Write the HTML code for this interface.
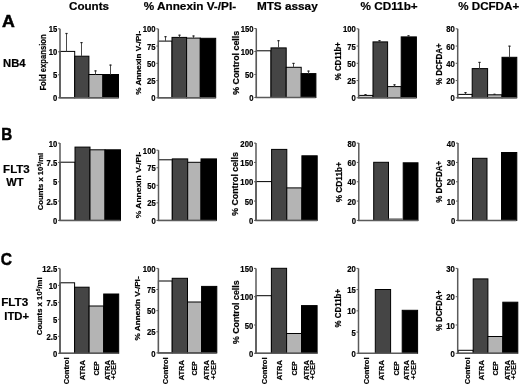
<!DOCTYPE html>
<html><head><meta charset="utf-8"><title>Figure</title>
<style>
html,body{margin:0;padding:0;background:#fff;}
body{width:520px;height:387px;overflow:hidden;}
svg{display:block;filter:grayscale(1);}
svg text{font-family:"Liberation Sans", sans-serif;font-weight:bold;fill:#000;stroke:#000;stroke-width:0.2px;}
svg text.big{stroke-width:0.5px;}
</style></head>
<body>
<svg width="520" height="387" viewBox="0 0 520 387">
<rect width="520" height="387" fill="#fff"/>
<rect x="60.00" y="51.40" width="14.70" height="46.40" fill="#ffffff" stroke="#000" stroke-width="1"/>
<rect x="74.70" y="56.20" width="14.20" height="41.60" fill="#454545" stroke="#000" stroke-width="1"/>
<rect x="88.90" y="74.50" width="14.00" height="23.30" fill="#b4b4b4" stroke="#000" stroke-width="1"/>
<rect x="102.90" y="74.50" width="15.60" height="23.30" fill="#000000" stroke="#000" stroke-width="1"/>
<line x1="66.50" y1="33.10" x2="66.50" y2="51.40" stroke="#4a4a4a" stroke-width="1"/>
<line x1="65.40" y1="33.50" x2="67.60" y2="33.50" stroke="#222" stroke-width="1.2"/>
<line x1="81.50" y1="42.20" x2="81.50" y2="56.10" stroke="#4a4a4a" stroke-width="1"/>
<line x1="80.40" y1="42.60" x2="82.60" y2="42.60" stroke="#222" stroke-width="1.2"/>
<line x1="95.50" y1="70.50" x2="95.50" y2="74.50" stroke="#4a4a4a" stroke-width="1"/>
<line x1="94.40" y1="70.90" x2="96.60" y2="70.90" stroke="#222" stroke-width="1.2"/>
<line x1="110.50" y1="64.70" x2="110.50" y2="74.50" stroke="#4a4a4a" stroke-width="1"/>
<line x1="109.40" y1="65.10" x2="111.60" y2="65.10" stroke="#222" stroke-width="1.2"/>
<line x1="60.00" y1="28.80" x2="60.00" y2="97.80" stroke="#5a5a5a" stroke-width="1.5"/>
<line x1="59.25" y1="97.80" x2="118.60" y2="97.80" stroke="#5a5a5a" stroke-width="1.5"/>
<line x1="58.00" y1="97.80" x2="60.00" y2="97.80" stroke="#5a5a5a" stroke-width="1"/>
<text x="57.20" y="101.40" font-size="8.6" text-anchor="end" textLength="4.28" lengthAdjust="spacingAndGlyphs">0</text>
<line x1="58.00" y1="74.80" x2="60.00" y2="74.80" stroke="#5a5a5a" stroke-width="1"/>
<text x="57.20" y="78.40" font-size="8.6" text-anchor="end" textLength="4.28" lengthAdjust="spacingAndGlyphs">5</text>
<line x1="58.00" y1="51.80" x2="60.00" y2="51.80" stroke="#5a5a5a" stroke-width="1"/>
<text x="57.20" y="55.40" font-size="8.6" text-anchor="end" textLength="8.56" lengthAdjust="spacingAndGlyphs">10</text>
<line x1="58.00" y1="28.80" x2="60.00" y2="28.80" stroke="#5a5a5a" stroke-width="1"/>
<text x="57.20" y="32.40" font-size="8.6" text-anchor="end" textLength="8.56" lengthAdjust="spacingAndGlyphs">15</text>
<text x="46.00" y="62.45" font-size="9" text-anchor="middle" textLength="56.30" lengthAdjust="spacingAndGlyphs" transform="rotate(-90 46.00 62.45)">Fold expansion</text>
<rect x="158.30" y="41.10" width="13.70" height="56.70" fill="#ffffff" stroke="#000" stroke-width="1"/>
<rect x="172.00" y="37.40" width="14.60" height="60.40" fill="#454545" stroke="#000" stroke-width="1"/>
<rect x="186.60" y="38.10" width="13.70" height="59.70" fill="#b4b4b4" stroke="#000" stroke-width="1"/>
<rect x="200.30" y="38.30" width="15.40" height="59.50" fill="#000000" stroke="#000" stroke-width="1"/>
<line x1="165.50" y1="36.30" x2="165.50" y2="41.10" stroke="#4a4a4a" stroke-width="1"/>
<line x1="164.40" y1="36.70" x2="166.60" y2="36.70" stroke="#222" stroke-width="1.2"/>
<line x1="179.50" y1="34.80" x2="179.50" y2="37.40" stroke="#4a4a4a" stroke-width="1"/>
<line x1="178.40" y1="35.20" x2="180.60" y2="35.20" stroke="#222" stroke-width="1.2"/>
<line x1="193.50" y1="35.60" x2="193.50" y2="38.10" stroke="#4a4a4a" stroke-width="1"/>
<line x1="192.40" y1="36.00" x2="194.60" y2="36.00" stroke="#222" stroke-width="1.2"/>
<line x1="158.30" y1="28.80" x2="158.30" y2="97.80" stroke="#5a5a5a" stroke-width="1.5"/>
<line x1="157.55" y1="97.80" x2="215.70" y2="97.80" stroke="#5a5a5a" stroke-width="1.5"/>
<line x1="156.30" y1="97.80" x2="158.30" y2="97.80" stroke="#5a5a5a" stroke-width="1"/>
<text x="155.50" y="101.40" font-size="8.6" text-anchor="end" textLength="4.28" lengthAdjust="spacingAndGlyphs">0</text>
<line x1="156.30" y1="80.55" x2="158.30" y2="80.55" stroke="#5a5a5a" stroke-width="1"/>
<text x="155.50" y="84.15" font-size="8.6" text-anchor="end" textLength="8.56" lengthAdjust="spacingAndGlyphs">25</text>
<line x1="156.30" y1="63.30" x2="158.30" y2="63.30" stroke="#5a5a5a" stroke-width="1"/>
<text x="155.50" y="66.90" font-size="8.6" text-anchor="end" textLength="8.56" lengthAdjust="spacingAndGlyphs">50</text>
<line x1="156.30" y1="46.05" x2="158.30" y2="46.05" stroke="#5a5a5a" stroke-width="1"/>
<text x="155.50" y="49.65" font-size="8.6" text-anchor="end" textLength="8.56" lengthAdjust="spacingAndGlyphs">75</text>
<line x1="156.30" y1="28.80" x2="158.30" y2="28.80" stroke="#5a5a5a" stroke-width="1"/>
<text x="155.50" y="32.40" font-size="8.6" text-anchor="end" textLength="12.85" lengthAdjust="spacingAndGlyphs">100</text>
<text x="140.70" y="62.80" font-size="8" text-anchor="middle" textLength="64.00" lengthAdjust="spacingAndGlyphs" transform="rotate(-90 140.70 62.80)">% Annexin V-/PI-</text>
<rect x="256.30" y="50.80" width="14.70" height="46.70" fill="#ffffff" stroke="#000" stroke-width="1"/>
<rect x="271.00" y="47.90" width="15.20" height="49.60" fill="#454545" stroke="#000" stroke-width="1"/>
<rect x="286.20" y="67.30" width="15.00" height="30.20" fill="#b4b4b4" stroke="#000" stroke-width="1"/>
<rect x="301.20" y="73.60" width="14.70" height="23.90" fill="#000000" stroke="#000" stroke-width="1"/>
<line x1="278.50" y1="40.30" x2="278.50" y2="47.90" stroke="#4a4a4a" stroke-width="1"/>
<line x1="277.40" y1="40.70" x2="279.60" y2="40.70" stroke="#222" stroke-width="1.2"/>
<line x1="293.50" y1="63.00" x2="293.50" y2="67.30" stroke="#4a4a4a" stroke-width="1"/>
<line x1="292.40" y1="63.40" x2="294.60" y2="63.40" stroke="#222" stroke-width="1.2"/>
<line x1="308.50" y1="70.70" x2="308.50" y2="73.60" stroke="#4a4a4a" stroke-width="1"/>
<line x1="307.40" y1="71.10" x2="309.60" y2="71.10" stroke="#222" stroke-width="1.2"/>
<line x1="256.30" y1="28.50" x2="256.30" y2="97.50" stroke="#5a5a5a" stroke-width="1.5"/>
<line x1="255.55" y1="97.50" x2="315.70" y2="97.50" stroke="#5a5a5a" stroke-width="1.5"/>
<line x1="254.30" y1="97.50" x2="256.30" y2="97.50" stroke="#5a5a5a" stroke-width="1"/>
<text x="253.50" y="101.10" font-size="8.6" text-anchor="end" textLength="4.28" lengthAdjust="spacingAndGlyphs">0</text>
<line x1="254.30" y1="74.50" x2="256.30" y2="74.50" stroke="#5a5a5a" stroke-width="1"/>
<text x="253.50" y="78.10" font-size="8.6" text-anchor="end" textLength="8.56" lengthAdjust="spacingAndGlyphs">50</text>
<line x1="254.30" y1="51.50" x2="256.30" y2="51.50" stroke="#5a5a5a" stroke-width="1"/>
<text x="253.50" y="55.10" font-size="8.6" text-anchor="end" textLength="12.85" lengthAdjust="spacingAndGlyphs">100</text>
<line x1="254.30" y1="28.50" x2="256.30" y2="28.50" stroke="#5a5a5a" stroke-width="1"/>
<text x="253.50" y="32.10" font-size="8.6" text-anchor="end" textLength="12.85" lengthAdjust="spacingAndGlyphs">150</text>
<text x="239.00" y="62.80" font-size="9" text-anchor="middle" textLength="64.00" lengthAdjust="spacingAndGlyphs" transform="rotate(-90 239.00 62.80)">% Control cells</text>
<rect x="358.60" y="95.40" width="14.40" height="2.40" fill="#c8c8c8" stroke="#000" stroke-width="1"/>
<rect x="373.00" y="41.90" width="14.60" height="55.90" fill="#454545" stroke="#000" stroke-width="1"/>
<rect x="387.60" y="86.60" width="13.60" height="11.20" fill="#b4b4b4" stroke="#000" stroke-width="1"/>
<rect x="401.20" y="36.90" width="15.20" height="60.90" fill="#000000" stroke="#000" stroke-width="1"/>
<line x1="365.50" y1="94.20" x2="365.50" y2="95.40" stroke="#4a4a4a" stroke-width="1"/>
<line x1="364.40" y1="94.60" x2="366.60" y2="94.60" stroke="#222" stroke-width="1.2"/>
<line x1="379.50" y1="40.30" x2="379.50" y2="41.90" stroke="#4a4a4a" stroke-width="1"/>
<line x1="378.40" y1="40.70" x2="380.60" y2="40.70" stroke="#222" stroke-width="1.2"/>
<line x1="394.50" y1="84.40" x2="394.50" y2="86.60" stroke="#4a4a4a" stroke-width="1"/>
<line x1="393.40" y1="84.80" x2="395.60" y2="84.80" stroke="#222" stroke-width="1.2"/>
<line x1="408.50" y1="35.40" x2="408.50" y2="36.90" stroke="#4a4a4a" stroke-width="1"/>
<line x1="407.40" y1="35.80" x2="409.60" y2="35.80" stroke="#222" stroke-width="1.2"/>
<line x1="358.60" y1="28.80" x2="358.60" y2="97.80" stroke="#5a5a5a" stroke-width="1.5"/>
<line x1="357.85" y1="97.80" x2="416.30" y2="97.80" stroke="#5a5a5a" stroke-width="1.5"/>
<line x1="356.60" y1="97.80" x2="358.60" y2="97.80" stroke="#5a5a5a" stroke-width="1"/>
<text x="355.80" y="101.40" font-size="8.6" text-anchor="end" textLength="4.28" lengthAdjust="spacingAndGlyphs">0</text>
<line x1="356.60" y1="80.55" x2="358.60" y2="80.55" stroke="#5a5a5a" stroke-width="1"/>
<text x="355.80" y="84.15" font-size="8.6" text-anchor="end" textLength="8.56" lengthAdjust="spacingAndGlyphs">25</text>
<line x1="356.60" y1="63.30" x2="358.60" y2="63.30" stroke="#5a5a5a" stroke-width="1"/>
<text x="355.80" y="66.90" font-size="8.6" text-anchor="end" textLength="8.56" lengthAdjust="spacingAndGlyphs">50</text>
<line x1="356.60" y1="46.05" x2="358.60" y2="46.05" stroke="#5a5a5a" stroke-width="1"/>
<text x="355.80" y="49.65" font-size="8.6" text-anchor="end" textLength="8.56" lengthAdjust="spacingAndGlyphs">75</text>
<line x1="356.60" y1="28.80" x2="358.60" y2="28.80" stroke="#5a5a5a" stroke-width="1"/>
<text x="355.80" y="32.40" font-size="8.6" text-anchor="end" textLength="12.85" lengthAdjust="spacingAndGlyphs">100</text>
<text x="341.50" y="61.15" font-size="9.2" text-anchor="middle" textLength="38.10" lengthAdjust="spacingAndGlyphs" transform="rotate(-90 341.50 61.15)">% CD11b+</text>
<rect x="457.70" y="94.40" width="14.50" height="3.40" fill="#ffffff" stroke="#000" stroke-width="1"/>
<rect x="472.20" y="68.60" width="15.40" height="29.20" fill="#454545" stroke="#000" stroke-width="1"/>
<rect x="487.60" y="94.80" width="14.40" height="3.00" fill="#b4b4b4" stroke="#000" stroke-width="1"/>
<rect x="502.00" y="57.30" width="14.80" height="40.50" fill="#000000" stroke="#000" stroke-width="1"/>
<line x1="465.50" y1="92.20" x2="465.50" y2="94.40" stroke="#4a4a4a" stroke-width="1"/>
<line x1="464.40" y1="92.60" x2="466.60" y2="92.60" stroke="#222" stroke-width="1.2"/>
<line x1="479.50" y1="62.00" x2="479.50" y2="68.60" stroke="#4a4a4a" stroke-width="1"/>
<line x1="478.40" y1="62.40" x2="480.60" y2="62.40" stroke="#222" stroke-width="1.2"/>
<line x1="494.50" y1="93.90" x2="494.50" y2="94.80" stroke="#4a4a4a" stroke-width="1"/>
<line x1="493.40" y1="94.30" x2="495.60" y2="94.30" stroke="#222" stroke-width="1.2"/>
<line x1="509.50" y1="45.80" x2="509.50" y2="57.30" stroke="#4a4a4a" stroke-width="1"/>
<line x1="508.40" y1="46.20" x2="510.60" y2="46.20" stroke="#222" stroke-width="1.2"/>
<line x1="457.70" y1="28.80" x2="457.70" y2="97.80" stroke="#5a5a5a" stroke-width="1.5"/>
<line x1="456.95" y1="97.80" x2="516.80" y2="97.80" stroke="#5a5a5a" stroke-width="1.5"/>
<line x1="455.70" y1="97.80" x2="457.70" y2="97.80" stroke="#5a5a5a" stroke-width="1"/>
<text x="454.90" y="101.40" font-size="8.6" text-anchor="end" textLength="4.28" lengthAdjust="spacingAndGlyphs">0</text>
<line x1="455.70" y1="80.55" x2="457.70" y2="80.55" stroke="#5a5a5a" stroke-width="1"/>
<text x="454.90" y="84.15" font-size="8.6" text-anchor="end" textLength="8.56" lengthAdjust="spacingAndGlyphs">20</text>
<line x1="455.70" y1="63.30" x2="457.70" y2="63.30" stroke="#5a5a5a" stroke-width="1"/>
<text x="454.90" y="66.90" font-size="8.6" text-anchor="end" textLength="8.56" lengthAdjust="spacingAndGlyphs">40</text>
<line x1="455.70" y1="46.05" x2="457.70" y2="46.05" stroke="#5a5a5a" stroke-width="1"/>
<text x="454.90" y="49.65" font-size="8.6" text-anchor="end" textLength="8.56" lengthAdjust="spacingAndGlyphs">60</text>
<line x1="455.70" y1="28.80" x2="457.70" y2="28.80" stroke="#5a5a5a" stroke-width="1"/>
<text x="454.90" y="32.40" font-size="8.6" text-anchor="end" textLength="8.56" lengthAdjust="spacingAndGlyphs">80</text>
<text x="442.00" y="64.25" font-size="9.2" text-anchor="middle" textLength="41.70" lengthAdjust="spacingAndGlyphs" transform="rotate(-90 442.00 64.25)">% DCFDA+</text>
<rect x="60.00" y="162.20" width="15.00" height="58.20" fill="#ffffff" stroke="#000" stroke-width="1"/>
<rect x="75.00" y="147.10" width="15.00" height="73.30" fill="#454545" stroke="#000" stroke-width="1"/>
<rect x="90.00" y="149.80" width="15.00" height="70.60" fill="#b4b4b4" stroke="#000" stroke-width="1"/>
<rect x="105.00" y="149.80" width="15.50" height="70.60" fill="#000000" stroke="#000" stroke-width="1"/>
<line x1="60.00" y1="143.10" x2="60.00" y2="220.40" stroke="#5a5a5a" stroke-width="1.5"/>
<line x1="59.25" y1="220.40" x2="120.50" y2="220.40" stroke="#5a5a5a" stroke-width="1.5"/>
<line x1="58.00" y1="220.40" x2="60.00" y2="220.40" stroke="#5a5a5a" stroke-width="1"/>
<text x="57.20" y="224.00" font-size="8.6" text-anchor="end" textLength="4.28" lengthAdjust="spacingAndGlyphs">0</text>
<line x1="58.00" y1="201.07" x2="60.00" y2="201.07" stroke="#5a5a5a" stroke-width="1"/>
<text x="57.20" y="204.67" font-size="8.6" text-anchor="end" textLength="10.70" lengthAdjust="spacingAndGlyphs">2.5</text>
<line x1="58.00" y1="181.75" x2="60.00" y2="181.75" stroke="#5a5a5a" stroke-width="1"/>
<text x="57.20" y="185.35" font-size="8.6" text-anchor="end" textLength="4.28" lengthAdjust="spacingAndGlyphs">5</text>
<line x1="58.00" y1="162.43" x2="60.00" y2="162.43" stroke="#5a5a5a" stroke-width="1"/>
<text x="57.20" y="166.03" font-size="8.6" text-anchor="end" textLength="10.70" lengthAdjust="spacingAndGlyphs">7.5</text>
<line x1="58.00" y1="143.10" x2="60.00" y2="143.10" stroke="#5a5a5a" stroke-width="1"/>
<text x="57.20" y="146.70" font-size="8.6" text-anchor="end" textLength="8.56" lengthAdjust="spacingAndGlyphs">10</text>
<text x="42.80" y="181.50" font-size="7.5" text-anchor="middle" textLength="57.40" lengthAdjust="spacingAndGlyphs" transform="rotate(-90 42.80 181.50)">Counts x 10<tspan font-size="4.65" dy="-2.25">5</tspan><tspan dy="2.25">/ml</tspan></text>
<rect x="158.50" y="159.80" width="13.80" height="60.60" fill="#ffffff" stroke="#000" stroke-width="1"/>
<rect x="172.30" y="158.90" width="15.40" height="61.50" fill="#454545" stroke="#000" stroke-width="1"/>
<rect x="187.70" y="162.30" width="13.30" height="58.10" fill="#b4b4b4" stroke="#000" stroke-width="1"/>
<rect x="201.00" y="158.90" width="15.50" height="61.50" fill="#000000" stroke="#000" stroke-width="1"/>
<line x1="158.50" y1="150.20" x2="158.50" y2="220.40" stroke="#5a5a5a" stroke-width="1.5"/>
<line x1="157.75" y1="220.40" x2="216.50" y2="220.40" stroke="#5a5a5a" stroke-width="1.5"/>
<line x1="156.50" y1="220.40" x2="158.50" y2="220.40" stroke="#5a5a5a" stroke-width="1"/>
<text x="155.70" y="224.00" font-size="8.6" text-anchor="end" textLength="4.28" lengthAdjust="spacingAndGlyphs">0</text>
<line x1="156.50" y1="202.85" x2="158.50" y2="202.85" stroke="#5a5a5a" stroke-width="1"/>
<text x="155.70" y="206.45" font-size="8.6" text-anchor="end" textLength="8.56" lengthAdjust="spacingAndGlyphs">25</text>
<line x1="156.50" y1="185.30" x2="158.50" y2="185.30" stroke="#5a5a5a" stroke-width="1"/>
<text x="155.70" y="188.90" font-size="8.6" text-anchor="end" textLength="8.56" lengthAdjust="spacingAndGlyphs">50</text>
<line x1="156.50" y1="167.75" x2="158.50" y2="167.75" stroke="#5a5a5a" stroke-width="1"/>
<text x="155.70" y="171.35" font-size="8.6" text-anchor="end" textLength="8.56" lengthAdjust="spacingAndGlyphs">75</text>
<line x1="156.50" y1="150.20" x2="158.50" y2="150.20" stroke="#5a5a5a" stroke-width="1"/>
<text x="155.70" y="153.80" font-size="8.6" text-anchor="end" textLength="12.85" lengthAdjust="spacingAndGlyphs">100</text>
<text x="141.40" y="184.95" font-size="8" text-anchor="middle" textLength="66.70" lengthAdjust="spacingAndGlyphs" transform="rotate(-90 141.40 184.95)">% Annexin V-/PI-</text>
<rect x="256.00" y="181.60" width="15.60" height="38.80" fill="#ffffff" stroke="#000" stroke-width="1"/>
<rect x="271.60" y="149.40" width="15.20" height="71.00" fill="#454545" stroke="#000" stroke-width="1"/>
<rect x="286.80" y="187.90" width="15.10" height="32.50" fill="#b4b4b4" stroke="#000" stroke-width="1"/>
<rect x="301.90" y="155.80" width="15.30" height="64.60" fill="#000000" stroke="#000" stroke-width="1"/>
<line x1="256.00" y1="143.10" x2="256.00" y2="220.40" stroke="#5a5a5a" stroke-width="1.5"/>
<line x1="255.25" y1="220.40" x2="317.20" y2="220.40" stroke="#5a5a5a" stroke-width="1.5"/>
<line x1="254.00" y1="220.40" x2="256.00" y2="220.40" stroke="#5a5a5a" stroke-width="1"/>
<text x="253.20" y="224.00" font-size="8.6" text-anchor="end" textLength="4.28" lengthAdjust="spacingAndGlyphs">0</text>
<line x1="254.00" y1="201.07" x2="256.00" y2="201.07" stroke="#5a5a5a" stroke-width="1"/>
<text x="253.20" y="204.67" font-size="8.6" text-anchor="end" textLength="8.56" lengthAdjust="spacingAndGlyphs">50</text>
<line x1="254.00" y1="181.75" x2="256.00" y2="181.75" stroke="#5a5a5a" stroke-width="1"/>
<text x="253.20" y="185.35" font-size="8.6" text-anchor="end" textLength="12.85" lengthAdjust="spacingAndGlyphs">100</text>
<line x1="254.00" y1="162.43" x2="256.00" y2="162.43" stroke="#5a5a5a" stroke-width="1"/>
<text x="253.20" y="166.03" font-size="8.6" text-anchor="end" textLength="12.85" lengthAdjust="spacingAndGlyphs">150</text>
<line x1="254.00" y1="143.10" x2="256.00" y2="143.10" stroke="#5a5a5a" stroke-width="1"/>
<text x="253.20" y="146.70" font-size="8.6" text-anchor="end" textLength="12.85" lengthAdjust="spacingAndGlyphs">200</text>
<text x="238.20" y="183.95" font-size="9" text-anchor="middle" textLength="63.70" lengthAdjust="spacingAndGlyphs" transform="rotate(-90 238.20 183.95)">% Control cells</text>
<rect x="373.70" y="162.30" width="14.80" height="58.10" fill="#454545" stroke="#000" stroke-width="1"/>
<rect x="403.20" y="162.80" width="14.80" height="57.60" fill="#000000" stroke="#000" stroke-width="1"/>
<rect x="388.60" y="218.30" width="14.40" height="2.10" fill="#7a7a7a"/>
<line x1="358.80" y1="143.10" x2="358.80" y2="220.40" stroke="#5a5a5a" stroke-width="1.5"/>
<line x1="358.05" y1="220.40" x2="418.20" y2="220.40" stroke="#5a5a5a" stroke-width="1.5"/>
<line x1="356.80" y1="220.40" x2="358.80" y2="220.40" stroke="#5a5a5a" stroke-width="1"/>
<text x="356.00" y="224.00" font-size="8.6" text-anchor="end" textLength="4.28" lengthAdjust="spacingAndGlyphs">0</text>
<line x1="356.80" y1="201.07" x2="358.80" y2="201.07" stroke="#5a5a5a" stroke-width="1"/>
<text x="356.00" y="204.67" font-size="8.6" text-anchor="end" textLength="8.56" lengthAdjust="spacingAndGlyphs">20</text>
<line x1="356.80" y1="181.75" x2="358.80" y2="181.75" stroke="#5a5a5a" stroke-width="1"/>
<text x="356.00" y="185.35" font-size="8.6" text-anchor="end" textLength="8.56" lengthAdjust="spacingAndGlyphs">40</text>
<line x1="356.80" y1="162.43" x2="358.80" y2="162.43" stroke="#5a5a5a" stroke-width="1"/>
<text x="356.00" y="166.03" font-size="8.6" text-anchor="end" textLength="8.56" lengthAdjust="spacingAndGlyphs">60</text>
<line x1="356.80" y1="143.10" x2="358.80" y2="143.10" stroke="#5a5a5a" stroke-width="1"/>
<text x="356.00" y="146.70" font-size="8.6" text-anchor="end" textLength="8.56" lengthAdjust="spacingAndGlyphs">80</text>
<text x="342.40" y="182.15" font-size="9.2" text-anchor="middle" textLength="40.30" lengthAdjust="spacingAndGlyphs" transform="rotate(-90 342.40 182.15)">% CD11b+</text>
<rect x="472.50" y="158.30" width="14.50" height="62.10" fill="#454545" stroke="#000" stroke-width="1"/>
<rect x="501.50" y="152.50" width="15.30" height="67.90" fill="#000000" stroke="#000" stroke-width="1"/>
<line x1="458.00" y1="143.10" x2="458.00" y2="220.40" stroke="#5a5a5a" stroke-width="1.5"/>
<line x1="457.25" y1="220.40" x2="516.40" y2="220.40" stroke="#5a5a5a" stroke-width="1.5"/>
<line x1="456.00" y1="220.40" x2="458.00" y2="220.40" stroke="#5a5a5a" stroke-width="1"/>
<text x="455.20" y="224.00" font-size="8.6" text-anchor="end" textLength="4.28" lengthAdjust="spacingAndGlyphs">0</text>
<line x1="456.00" y1="201.07" x2="458.00" y2="201.07" stroke="#5a5a5a" stroke-width="1"/>
<text x="455.20" y="204.67" font-size="8.6" text-anchor="end" textLength="8.56" lengthAdjust="spacingAndGlyphs">10</text>
<line x1="456.00" y1="181.75" x2="458.00" y2="181.75" stroke="#5a5a5a" stroke-width="1"/>
<text x="455.20" y="185.35" font-size="8.6" text-anchor="end" textLength="8.56" lengthAdjust="spacingAndGlyphs">20</text>
<line x1="456.00" y1="162.43" x2="458.00" y2="162.43" stroke="#5a5a5a" stroke-width="1"/>
<text x="455.20" y="166.03" font-size="8.6" text-anchor="end" textLength="8.56" lengthAdjust="spacingAndGlyphs">30</text>
<line x1="456.00" y1="143.10" x2="458.00" y2="143.10" stroke="#5a5a5a" stroke-width="1"/>
<text x="455.20" y="146.70" font-size="8.6" text-anchor="end" textLength="8.56" lengthAdjust="spacingAndGlyphs">40</text>
<text x="442.40" y="181.80" font-size="9.2" text-anchor="middle" textLength="41.80" lengthAdjust="spacingAndGlyphs" transform="rotate(-90 442.40 181.80)">% DCFDA+</text>
<rect x="60.00" y="282.80" width="14.60" height="70.50" fill="#ffffff" stroke="#000" stroke-width="1"/>
<rect x="74.60" y="287.20" width="14.50" height="66.10" fill="#454545" stroke="#000" stroke-width="1"/>
<rect x="89.10" y="306.00" width="14.60" height="47.30" fill="#b4b4b4" stroke="#000" stroke-width="1"/>
<rect x="103.70" y="294.00" width="15.00" height="59.30" fill="#000000" stroke="#000" stroke-width="1"/>
<line x1="60.00" y1="268.40" x2="60.00" y2="353.30" stroke="#5a5a5a" stroke-width="1.5"/>
<line x1="59.25" y1="353.30" x2="118.80" y2="353.30" stroke="#5a5a5a" stroke-width="1.5"/>
<line x1="58.00" y1="353.30" x2="60.00" y2="353.30" stroke="#5a5a5a" stroke-width="1"/>
<text x="57.20" y="356.90" font-size="8.6" text-anchor="end" textLength="4.28" lengthAdjust="spacingAndGlyphs">0</text>
<line x1="58.00" y1="336.32" x2="60.00" y2="336.32" stroke="#5a5a5a" stroke-width="1"/>
<text x="57.20" y="339.92" font-size="8.6" text-anchor="end" textLength="10.70" lengthAdjust="spacingAndGlyphs">2.5</text>
<line x1="58.00" y1="319.34" x2="60.00" y2="319.34" stroke="#5a5a5a" stroke-width="1"/>
<text x="57.20" y="322.94" font-size="8.6" text-anchor="end" textLength="4.28" lengthAdjust="spacingAndGlyphs">5</text>
<line x1="58.00" y1="302.36" x2="60.00" y2="302.36" stroke="#5a5a5a" stroke-width="1"/>
<text x="57.20" y="305.96" font-size="8.6" text-anchor="end" textLength="10.70" lengthAdjust="spacingAndGlyphs">7.5</text>
<line x1="58.00" y1="285.38" x2="60.00" y2="285.38" stroke="#5a5a5a" stroke-width="1"/>
<text x="57.20" y="288.98" font-size="8.6" text-anchor="end" textLength="8.56" lengthAdjust="spacingAndGlyphs">10</text>
<line x1="58.00" y1="268.40" x2="60.00" y2="268.40" stroke="#5a5a5a" stroke-width="1"/>
<text x="57.20" y="272.00" font-size="8.6" text-anchor="end" textLength="14.99" lengthAdjust="spacingAndGlyphs">12.5</text>
<text x="41.80" y="306.30" font-size="7.5" text-anchor="middle" textLength="57.80" lengthAdjust="spacingAndGlyphs" transform="rotate(-90 41.80 306.30)">Counts x 10<tspan font-size="4.65" dy="-2.25">5</tspan><tspan dy="2.25">/ml</tspan></text>
<rect x="158.40" y="281.00" width="13.80" height="71.90" fill="#ffffff" stroke="#000" stroke-width="1"/>
<rect x="172.20" y="278.30" width="15.30" height="74.60" fill="#454545" stroke="#000" stroke-width="1"/>
<rect x="187.50" y="302.00" width="14.10" height="50.90" fill="#b4b4b4" stroke="#000" stroke-width="1"/>
<rect x="201.60" y="286.40" width="15.20" height="66.50" fill="#000000" stroke="#000" stroke-width="1"/>
<line x1="158.40" y1="268.40" x2="158.40" y2="352.90" stroke="#5a5a5a" stroke-width="1.5"/>
<line x1="157.65" y1="352.90" x2="216.60" y2="352.90" stroke="#5a5a5a" stroke-width="1.5"/>
<line x1="156.40" y1="352.90" x2="158.40" y2="352.90" stroke="#5a5a5a" stroke-width="1"/>
<text x="155.60" y="356.50" font-size="8.6" text-anchor="end" textLength="4.28" lengthAdjust="spacingAndGlyphs">0</text>
<line x1="156.40" y1="331.77" x2="158.40" y2="331.77" stroke="#5a5a5a" stroke-width="1"/>
<text x="155.60" y="335.38" font-size="8.6" text-anchor="end" textLength="8.56" lengthAdjust="spacingAndGlyphs">25</text>
<line x1="156.40" y1="310.65" x2="158.40" y2="310.65" stroke="#5a5a5a" stroke-width="1"/>
<text x="155.60" y="314.25" font-size="8.6" text-anchor="end" textLength="8.56" lengthAdjust="spacingAndGlyphs">50</text>
<line x1="156.40" y1="289.52" x2="158.40" y2="289.52" stroke="#5a5a5a" stroke-width="1"/>
<text x="155.60" y="293.12" font-size="8.6" text-anchor="end" textLength="8.56" lengthAdjust="spacingAndGlyphs">75</text>
<line x1="156.40" y1="268.40" x2="158.40" y2="268.40" stroke="#5a5a5a" stroke-width="1"/>
<text x="155.60" y="272.00" font-size="8.6" text-anchor="end" textLength="12.85" lengthAdjust="spacingAndGlyphs">100</text>
<text x="140.30" y="308.40" font-size="8" text-anchor="middle" textLength="64.00" lengthAdjust="spacingAndGlyphs" transform="rotate(-90 140.30 308.40)">% Annexin V-/PI-</text>
<rect x="256.00" y="295.70" width="15.40" height="57.60" fill="#ffffff" stroke="#000" stroke-width="1"/>
<rect x="271.40" y="268.30" width="15.20" height="85.00" fill="#454545" stroke="#000" stroke-width="1"/>
<rect x="286.60" y="333.50" width="14.90" height="19.80" fill="#b4b4b4" stroke="#000" stroke-width="1"/>
<rect x="301.50" y="305.60" width="15.60" height="47.70" fill="#000000" stroke="#000" stroke-width="1"/>
<line x1="256.00" y1="268.40" x2="256.00" y2="353.30" stroke="#5a5a5a" stroke-width="1.5"/>
<line x1="255.25" y1="353.30" x2="317.10" y2="353.30" stroke="#5a5a5a" stroke-width="1.5"/>
<line x1="254.00" y1="353.30" x2="256.00" y2="353.30" stroke="#5a5a5a" stroke-width="1"/>
<text x="253.20" y="356.90" font-size="8.6" text-anchor="end" textLength="4.28" lengthAdjust="spacingAndGlyphs">0</text>
<line x1="254.00" y1="325.00" x2="256.00" y2="325.00" stroke="#5a5a5a" stroke-width="1"/>
<text x="253.20" y="328.60" font-size="8.6" text-anchor="end" textLength="8.56" lengthAdjust="spacingAndGlyphs">50</text>
<line x1="254.00" y1="296.70" x2="256.00" y2="296.70" stroke="#5a5a5a" stroke-width="1"/>
<text x="253.20" y="300.30" font-size="8.6" text-anchor="end" textLength="12.85" lengthAdjust="spacingAndGlyphs">100</text>
<line x1="254.00" y1="268.40" x2="256.00" y2="268.40" stroke="#5a5a5a" stroke-width="1"/>
<text x="253.20" y="272.00" font-size="8.6" text-anchor="end" textLength="12.85" lengthAdjust="spacingAndGlyphs">150</text>
<text x="238.60" y="312.25" font-size="9" text-anchor="middle" textLength="63.70" lengthAdjust="spacingAndGlyphs" transform="rotate(-90 238.60 312.25)">% Control cells</text>
<rect x="375.30" y="289.50" width="15.30" height="63.80" fill="#454545" stroke="#000" stroke-width="1"/>
<rect x="402.20" y="310.30" width="15.40" height="43.00" fill="#000000" stroke="#000" stroke-width="1"/>
<line x1="358.50" y1="268.40" x2="358.50" y2="353.30" stroke="#5a5a5a" stroke-width="1.5"/>
<line x1="357.75" y1="353.30" x2="417.40" y2="353.30" stroke="#5a5a5a" stroke-width="1.5"/>
<line x1="356.50" y1="353.30" x2="358.50" y2="353.30" stroke="#5a5a5a" stroke-width="1"/>
<text x="355.70" y="356.90" font-size="8.6" text-anchor="end" textLength="4.28" lengthAdjust="spacingAndGlyphs">0</text>
<line x1="356.50" y1="332.07" x2="358.50" y2="332.07" stroke="#5a5a5a" stroke-width="1"/>
<text x="355.70" y="335.68" font-size="8.6" text-anchor="end" textLength="4.28" lengthAdjust="spacingAndGlyphs">5</text>
<line x1="356.50" y1="310.85" x2="358.50" y2="310.85" stroke="#5a5a5a" stroke-width="1"/>
<text x="355.70" y="314.45" font-size="8.6" text-anchor="end" textLength="8.56" lengthAdjust="spacingAndGlyphs">10</text>
<line x1="356.50" y1="289.62" x2="358.50" y2="289.62" stroke="#5a5a5a" stroke-width="1"/>
<text x="355.70" y="293.23" font-size="8.6" text-anchor="end" textLength="8.56" lengthAdjust="spacingAndGlyphs">15</text>
<line x1="356.50" y1="268.40" x2="358.50" y2="268.40" stroke="#5a5a5a" stroke-width="1"/>
<text x="355.70" y="272.00" font-size="8.6" text-anchor="end" textLength="8.56" lengthAdjust="spacingAndGlyphs">20</text>
<text x="341.20" y="308.20" font-size="9.2" text-anchor="middle" textLength="38.40" lengthAdjust="spacingAndGlyphs" transform="rotate(-90 341.20 308.20)">% CD11b+</text>
<rect x="458.20" y="350.30" width="15.00" height="3.00" fill="#ffffff" stroke="#000" stroke-width="1"/>
<rect x="473.20" y="278.90" width="14.70" height="74.40" fill="#454545" stroke="#000" stroke-width="1"/>
<rect x="487.90" y="336.50" width="14.90" height="16.80" fill="#b4b4b4" stroke="#000" stroke-width="1"/>
<rect x="502.80" y="302.20" width="15.00" height="51.10" fill="#000000" stroke="#000" stroke-width="1"/>
<line x1="457.70" y1="268.40" x2="457.70" y2="353.30" stroke="#5a5a5a" stroke-width="1.5"/>
<line x1="456.95" y1="353.30" x2="517.80" y2="353.30" stroke="#5a5a5a" stroke-width="1.5"/>
<line x1="455.70" y1="353.30" x2="457.70" y2="353.30" stroke="#5a5a5a" stroke-width="1"/>
<text x="454.90" y="356.90" font-size="8.6" text-anchor="end" textLength="4.28" lengthAdjust="spacingAndGlyphs">0</text>
<line x1="455.70" y1="325.00" x2="457.70" y2="325.00" stroke="#5a5a5a" stroke-width="1"/>
<text x="454.90" y="328.60" font-size="8.6" text-anchor="end" textLength="8.56" lengthAdjust="spacingAndGlyphs">10</text>
<line x1="455.70" y1="296.70" x2="457.70" y2="296.70" stroke="#5a5a5a" stroke-width="1"/>
<text x="454.90" y="300.30" font-size="8.6" text-anchor="end" textLength="8.56" lengthAdjust="spacingAndGlyphs">20</text>
<line x1="455.70" y1="268.40" x2="457.70" y2="268.40" stroke="#5a5a5a" stroke-width="1"/>
<text x="454.90" y="272.00" font-size="8.6" text-anchor="end" textLength="8.56" lengthAdjust="spacingAndGlyphs">30</text>
<text x="442.10" y="310.55" font-size="9.2" text-anchor="middle" textLength="40.90" lengthAdjust="spacingAndGlyphs" transform="rotate(-90 442.10 310.55)">% DCFDA+</text>
<text x="69.35" y="370.85" font-size="8.0" text-anchor="middle" textLength="26.90" lengthAdjust="spacingAndGlyphs" transform="rotate(-90 69.35 370.85)">Control</text>
<text x="85.05" y="370.20" font-size="8.0" text-anchor="middle" textLength="20.20" lengthAdjust="spacingAndGlyphs" transform="rotate(-90 85.05 370.20)">ATRA</text>
<text x="99.30" y="368.50" font-size="8.0" text-anchor="middle" textLength="14.20" lengthAdjust="spacingAndGlyphs" transform="rotate(-90 99.30 368.50)">CEP</text>
<text x="109.55" y="370.20" font-size="8.0" text-anchor="middle" textLength="20.20" lengthAdjust="spacingAndGlyphs" transform="rotate(-90 109.55 370.20)">ATRA</text>
<text x="116.50" y="369.85" font-size="8.0" text-anchor="middle" textLength="19.50" lengthAdjust="spacingAndGlyphs" transform="rotate(-90 116.50 369.85)">+CEP</text>
<text x="167.95" y="370.85" font-size="8.0" text-anchor="middle" textLength="26.90" lengthAdjust="spacingAndGlyphs" transform="rotate(-90 167.95 370.85)">Control</text>
<text x="183.65" y="370.20" font-size="8.0" text-anchor="middle" textLength="20.20" lengthAdjust="spacingAndGlyphs" transform="rotate(-90 183.65 370.20)">ATRA</text>
<text x="197.35" y="368.50" font-size="8.0" text-anchor="middle" textLength="14.20" lengthAdjust="spacingAndGlyphs" transform="rotate(-90 197.35 368.50)">CEP</text>
<text x="208.85" y="370.20" font-size="8.0" text-anchor="middle" textLength="20.20" lengthAdjust="spacingAndGlyphs" transform="rotate(-90 208.85 370.20)">ATRA</text>
<text x="215.55" y="369.85" font-size="8.0" text-anchor="middle" textLength="19.50" lengthAdjust="spacingAndGlyphs" transform="rotate(-90 215.55 369.85)">+CEP</text>
<text x="267.35" y="370.85" font-size="8.0" text-anchor="middle" textLength="26.90" lengthAdjust="spacingAndGlyphs" transform="rotate(-90 267.35 370.85)">Control</text>
<text x="281.85" y="370.20" font-size="8.0" text-anchor="middle" textLength="20.20" lengthAdjust="spacingAndGlyphs" transform="rotate(-90 281.85 370.20)">ATRA</text>
<text x="296.75" y="368.50" font-size="8.0" text-anchor="middle" textLength="14.20" lengthAdjust="spacingAndGlyphs" transform="rotate(-90 296.75 368.50)">CEP</text>
<text x="308.65" y="370.20" font-size="8.0" text-anchor="middle" textLength="20.20" lengthAdjust="spacingAndGlyphs" transform="rotate(-90 308.65 370.20)">ATRA</text>
<text x="315.05" y="369.85" font-size="8.0" text-anchor="middle" textLength="19.50" lengthAdjust="spacingAndGlyphs" transform="rotate(-90 315.05 369.85)">+CEP</text>
<text x="368.55" y="370.85" font-size="8.0" text-anchor="middle" textLength="26.90" lengthAdjust="spacingAndGlyphs" transform="rotate(-90 368.55 370.85)">Control</text>
<text x="383.75" y="370.20" font-size="8.0" text-anchor="middle" textLength="20.20" lengthAdjust="spacingAndGlyphs" transform="rotate(-90 383.75 370.20)">ATRA</text>
<text x="398.55" y="368.50" font-size="8.0" text-anchor="middle" textLength="14.20" lengthAdjust="spacingAndGlyphs" transform="rotate(-90 398.55 368.50)">CEP</text>
<text x="409.25" y="370.20" font-size="8.0" text-anchor="middle" textLength="20.20" lengthAdjust="spacingAndGlyphs" transform="rotate(-90 409.25 370.20)">ATRA</text>
<text x="415.75" y="369.85" font-size="8.0" text-anchor="middle" textLength="19.50" lengthAdjust="spacingAndGlyphs" transform="rotate(-90 415.75 369.85)">+CEP</text>
<text x="469.65" y="370.85" font-size="8.0" text-anchor="middle" textLength="26.90" lengthAdjust="spacingAndGlyphs" transform="rotate(-90 469.65 370.85)">Control</text>
<text x="483.55" y="370.20" font-size="8.0" text-anchor="middle" textLength="20.20" lengthAdjust="spacingAndGlyphs" transform="rotate(-90 483.55 370.20)">ATRA</text>
<text x="497.95" y="368.50" font-size="8.0" text-anchor="middle" textLength="14.20" lengthAdjust="spacingAndGlyphs" transform="rotate(-90 497.95 368.50)">CEP</text>
<text x="510.05" y="370.20" font-size="8.0" text-anchor="middle" textLength="20.20" lengthAdjust="spacingAndGlyphs" transform="rotate(-90 510.05 370.20)">ATRA</text>
<text x="516.25" y="369.85" font-size="8.0" text-anchor="middle" textLength="19.50" lengthAdjust="spacingAndGlyphs" transform="rotate(-90 516.25 369.85)">+CEP</text>
<text x="69.00" y="9.70" font-size="11.6" textLength="40.00" lengthAdjust="spacingAndGlyphs">Counts</text>
<text x="143.70" y="9.60" font-size="11.6" textLength="92.40" lengthAdjust="spacingAndGlyphs">% Annexin V-/PI-</text>
<text x="256.90" y="9.60" font-size="11.6" textLength="60.80" lengthAdjust="spacingAndGlyphs">MTS assay</text>
<text x="360.50" y="9.60" font-size="11.6" textLength="57.20" lengthAdjust="spacingAndGlyphs">% CD11b+</text>
<text x="458.20" y="9.60" font-size="11.6" textLength="61.00" lengthAdjust="spacingAndGlyphs">% DCFDA+</text>
<text x="1.90" y="26.70" font-size="17" textLength="12.80" lengthAdjust="spacingAndGlyphs" style="stroke-width:0.5px">A</text>
<text x="1.20" y="139.80" font-size="17" textLength="11.00" lengthAdjust="spacingAndGlyphs" style="stroke-width:0.5px">B</text>
<text x="0.80" y="265.00" font-size="17" textLength="11.20" lengthAdjust="spacingAndGlyphs" style="stroke-width:0.5px">C</text>
<text x="3.10" y="67.20" font-size="11" textLength="22.50" lengthAdjust="spacingAndGlyphs">NB4</text>
<text x="3.10" y="172.60" font-size="11" textLength="26.70" lengthAdjust="spacingAndGlyphs">FLT3</text>
<text x="6.20" y="186.40" font-size="11" textLength="17.40" lengthAdjust="spacingAndGlyphs">WT</text>
<text x="1.20" y="306.30" font-size="11" textLength="27.10" lengthAdjust="spacingAndGlyphs">FLT3</text>
<text x="4.30" y="320.30" font-size="11" textLength="24.80" lengthAdjust="spacingAndGlyphs">ITD+</text>
</svg>
</body></html>
